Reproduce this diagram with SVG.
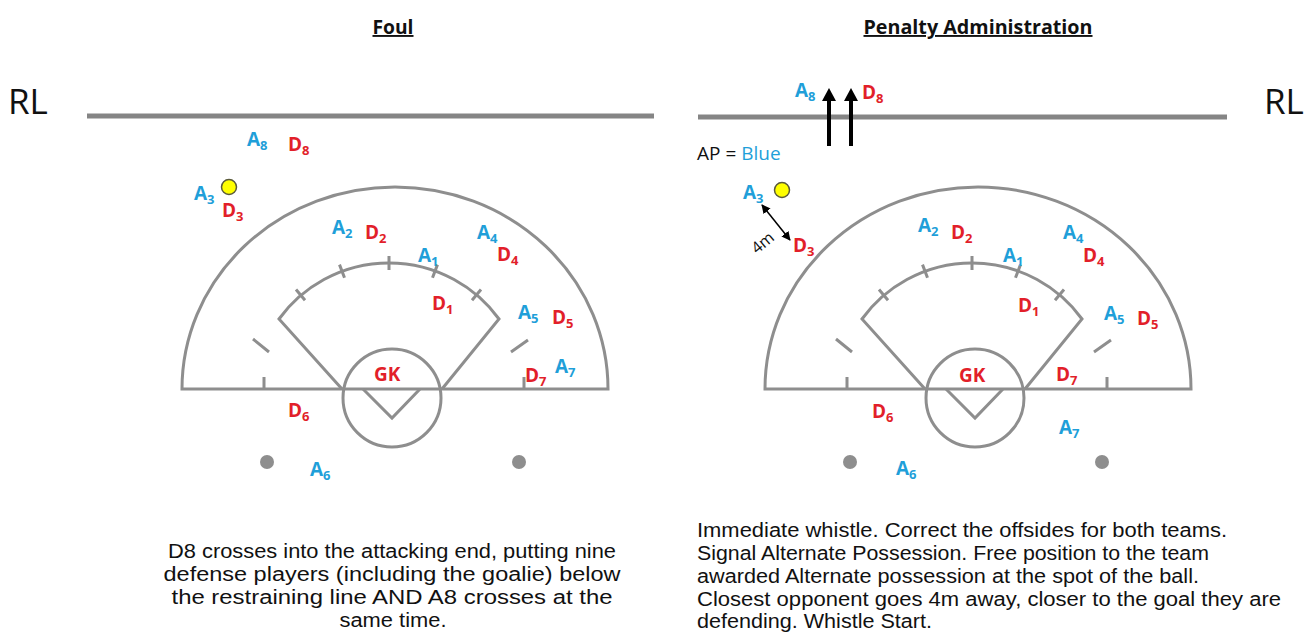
<svg xmlns="http://www.w3.org/2000/svg" xmlns:xlink="http://www.w3.org/1999/xlink" width="1306" height="633" viewBox="0 0 1306 633">
<style>
.fld{fill:none;stroke:#8e8e8e;stroke-width:3;stroke-linecap:butt}
.rl{stroke:#858585;stroke-width:5}
.dot{fill:#8e8e8e}
.lbl{font-family:"Open Sans","Liberation Sans",sans-serif;font-size:19px;font-weight:700}
.a{fill:#1f9fd9}
.d{fill:#e21f2a}
.sub{font-size:13px}
.hd{font-family:"Open Sans","Liberation Sans",sans-serif;font-size:19px;font-weight:700;fill:#111;text-decoration:underline}
.body{font-family:"Liberation Sans","Open Sans",sans-serif;font-size:19.5px;fill:#111}
.sm{font-family:"Open Sans","Liberation Sans",sans-serif;font-weight:400;fill:#111}
.big{font-family:"Open Sans","Liberation Sans",sans-serif;font-size:35px;fill:#111}
.ball{fill:#ffff00;stroke:#5a5a3a;stroke-width:1.5}
.arr{stroke:#000;stroke-width:4}
.head{fill:#000}
</style>
<defs>
<g id="field">
<path class="fld" d="M182,389 A213,202 0 0 1 608,389 Z"/>
<path class="fld" d="M342,389 L279,319 A136,136 0 0 1 499,319 L442,389"/>
<path class="fld" d="M296,289.5 L305,300.2 M339.5,264.6 L344.5,277.7 M389,256 L389,270 M437.5,264.6 L432.5,277.7 M481,289.5 L472,300.2"/>
<circle class="fld" cx="392" cy="398" r="49"/>
<path class="fld" d="M363,389 L392,418 L420,389"/>
<path class="fld" d="M253,339 L269,352 M511,352 L528,340 M264,377 L264,389 M524,377 L524,389"/>
<circle class="dot" cx="267" cy="462" r="7"/>
<circle class="dot" cx="519" cy="462" r="7"/>
</g>
<marker id="ah" viewBox="0 0 10 10" refX="9" refY="5" markerWidth="6" markerHeight="6" orient="auto-start-reverse">
<path d="M0,0 L10,5 L0,10 Z" fill="#000"/>
</marker>
</defs>

<g id="titles">
<text class="hd" x="393" y="34" text-anchor="middle" textLength="41" lengthAdjust="spacingAndGlyphs">Foul</text>
<text class="hd" x="978" y="34" text-anchor="middle" textLength="229" lengthAdjust="spacingAndGlyphs">Penalty Administration</text>
<text class="big" x="8" y="114">RL</text>
<text class="big" x="1264" y="114">RL</text>
</g>

<g id="left-field">
<line class="rl" x1="87" y1="116" x2="654" y2="116"/>
<use xlink:href="#field"/>
</g>
<g id="right-field">
<line class="rl" x1="698" y1="117" x2="1227" y2="117"/>
<use xlink:href="#field" transform="translate(583,0)"/>
</g>

<g id="left-players" class="lbl">
<g id="L-A8"><text class="a" x="247" y="146">A<tspan class="sub" dy="4">8</tspan></text></g>
<g id="L-D8"><text class="d" x="288" y="151">D<tspan class="sub" dy="4">8</tspan></text></g>
<g id="L-ball"><circle class="ball" cx="229" cy="187" r="7.5"/></g>
<g id="L-A3"><text class="a" x="194" y="200">A<tspan class="sub" dy="4">3</tspan></text></g>
<g id="L-D3"><text class="d" x="222" y="217">D<tspan class="sub" dy="4">3</tspan></text></g>
<g id="L-A2"><text class="a" x="332" y="234">A<tspan class="sub" dy="4">2</tspan></text></g>
<g id="L-D2"><text class="d" x="365" y="239">D<tspan class="sub" dy="4">2</tspan></text></g>
<g id="L-A1"><text class="a" x="418" y="262">A<tspan class="sub" dy="4">1</tspan></text></g>
<g id="L-A4"><text class="a" x="477" y="239">A<tspan class="sub" dy="4">4</tspan></text></g>
<g id="L-D4"><text class="d" x="497" y="261">D<tspan class="sub" dy="4">4</tspan></text></g>
<g id="L-D1"><text class="d" x="432" y="310">D<tspan class="sub" dy="4">1</tspan></text></g>
<g id="L-A5"><text class="a" x="518" y="319">A<tspan class="sub" dy="4">5</tspan></text></g>
<g id="L-D5"><text class="d" x="552" y="324">D<tspan class="sub" dy="4">5</tspan></text></g>
<g id="L-GK"><text class="d" x="374" y="381">GK</text></g>
<g id="L-D7"><text class="d" x="525" y="382">D<tspan class="sub" dy="4">7</tspan></text></g>
<g id="L-A7"><text class="a" x="555" y="373">A<tspan class="sub" dy="4">7</tspan></text></g>
<g id="L-D6"><text class="d" x="288" y="417">D<tspan class="sub" dy="4">6</tspan></text></g>
<g id="L-A6"><text class="a" x="310" y="476">A<tspan class="sub" dy="4">6</tspan></text></g>
</g>

<g id="right-players" class="lbl">
<g id="R-A8"><text class="a" x="795" y="97">A<tspan class="sub" dy="4">8</tspan></text></g>
<g id="R-D8"><text class="d" x="862" y="99">D<tspan class="sub" dy="4">8</tspan></text></g>
<g id="R-AP"><text class="sm" x="697" y="160" font-size="19">AP = <tspan fill="#1f9fd9">Blue</tspan></text></g>
<g id="R-A3"><text class="a" x="743" y="199">A<tspan class="sub" dy="4">3</tspan></text></g>
<g id="R-ball"><circle class="ball" cx="782" cy="190" r="7.5"/></g>
<g id="R-D3"><text class="d" x="793" y="252">D<tspan class="sub" dy="4">3</tspan></text></g>
<g id="R-4m"><text class="sm" x="763" y="248" font-size="16" text-anchor="middle" transform="rotate(-40 763 243)">4m</text></g>
<g id="R-A2"><text class="a" x="918" y="232">A<tspan class="sub" dy="4">2</tspan></text></g>
<g id="R-D2"><text class="d" x="951" y="239">D<tspan class="sub" dy="4">2</tspan></text></g>
<g id="R-A1"><text class="a" x="1003" y="262">A<tspan class="sub" dy="4">1</tspan></text></g>
<g id="R-A4"><text class="a" x="1063" y="239">A<tspan class="sub" dy="4">4</tspan></text></g>
<g id="R-D4"><text class="d" x="1083" y="262">D<tspan class="sub" dy="4">4</tspan></text></g>
<g id="R-D1"><text class="d" x="1018" y="312">D<tspan class="sub" dy="4">1</tspan></text></g>
<g id="R-A5"><text class="a" x="1104" y="320">A<tspan class="sub" dy="4">5</tspan></text></g>
<g id="R-D5"><text class="d" x="1137" y="325">D<tspan class="sub" dy="4">5</tspan></text></g>
<g id="R-GK"><text class="d" x="959" y="382">GK</text></g>
<g id="R-D7"><text class="d" x="1056" y="381">D<tspan class="sub" dy="4">7</tspan></text></g>
<g id="R-D6"><text class="d" x="872" y="418">D<tspan class="sub" dy="4">6</tspan></text></g>
<g id="R-A7"><text class="a" x="1059" y="434">A<tspan class="sub" dy="4">7</tspan></text></g>
<g id="R-A6"><text class="a" x="896" y="475">A<tspan class="sub" dy="4">6</tspan></text></g>
</g>

<g id="connectors">
<line class="arr" x1="829" y1="146" x2="829" y2="99"/>
<polygon class="head" points="829,88 822,101 836,101"/>
<line class="arr" x1="851" y1="146" x2="851" y2="99"/>
<polygon class="head" points="851,88 844,101 858,101"/>
<line x1="762" y1="205" x2="790" y2="240" stroke="#000" stroke-width="1.5" marker-start="url(#ah)" marker-end="url(#ah)"/>
</g>

<g id="left-text" class="body" text-anchor="middle">
<text x="392" y="558" textLength="448" lengthAdjust="spacingAndGlyphs">D8 crosses into the attacking end, putting nine</text>
<text x="392" y="581" textLength="457" lengthAdjust="spacingAndGlyphs">defense players (including the goalie) below</text>
<text x="392" y="604" textLength="441" lengthAdjust="spacingAndGlyphs">the restraining line AND A8 crosses at the</text>
<text x="393" y="627" textLength="107" lengthAdjust="spacingAndGlyphs">same time.</text>
</g>

<g id="right-text" class="body">
<text x="697" y="537" textLength="530" lengthAdjust="spacingAndGlyphs">Immediate whistle. Correct the offsides for both teams.</text>
<text x="697" y="560" textLength="512" lengthAdjust="spacingAndGlyphs">Signal Alternate Possession. Free position to the team</text>
<text x="697" y="583" textLength="502" lengthAdjust="spacingAndGlyphs">awarded Alternate possession at the spot of the ball.</text>
<text x="697" y="606" textLength="584" lengthAdjust="spacingAndGlyphs">Closest opponent goes 4m away, closer to the goal they are</text>
<text x="697" y="628" textLength="235" lengthAdjust="spacingAndGlyphs">defending. Whistle Start.</text>
</g>
</svg>
